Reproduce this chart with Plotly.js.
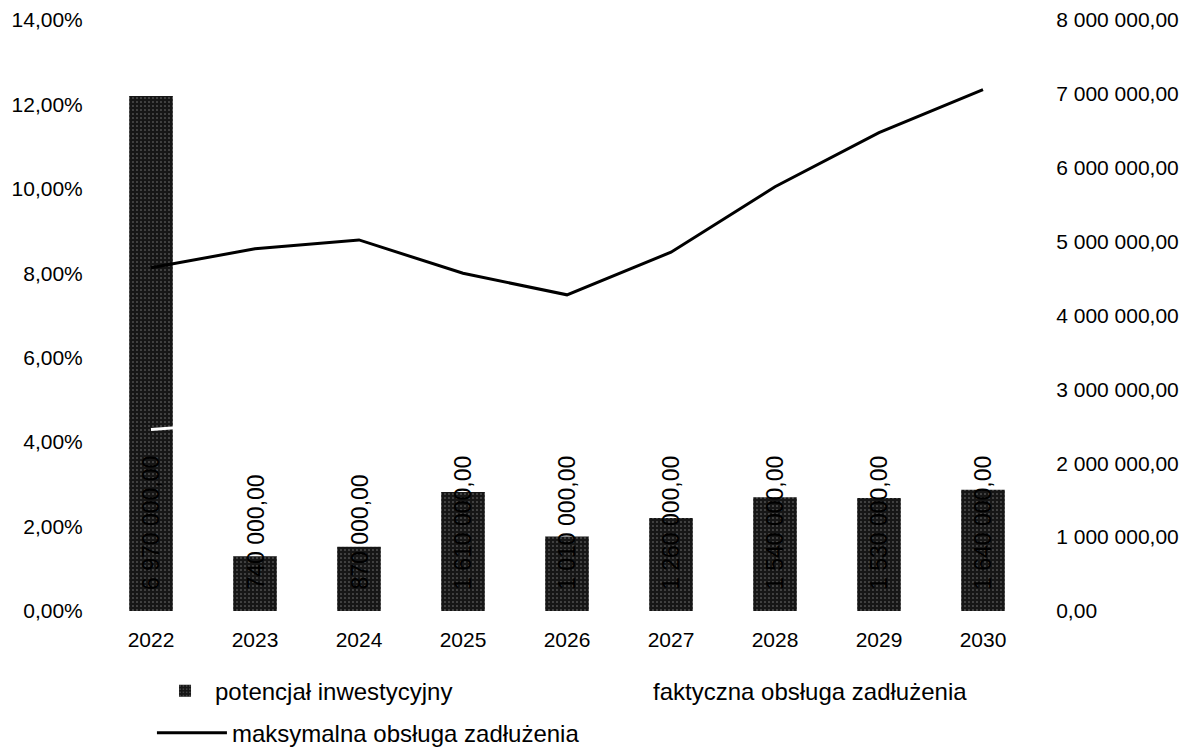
<!DOCTYPE html>
<html><head><meta charset="utf-8">
<script src="https://cdn.plot.ly/plotly-3.0.1.min.js"></script>
<style>html,body{margin:0;padding:0;background:#fff}#chart{width:1187px;height:748px}</style>
</head><body><div id="chart"></div>
<script>
const years = ['2022','2023','2024','2025','2026','2027','2028','2029','2030'];
const potencjal = [6970000, 740000, 870000, 1610000, 1010000, 1260000, 1540000, 1530000, 1640000];
const maksymalna = [8.13, 8.58, 8.79, 8.00, 7.49, 8.50, 10.05, 11.33, 12.35];
const faktyczna = [4.30, 4.48, 4.95, 3.95, 3.90, 3.92, 3.93, 3.93, 3.95];
const seriesNames = ['potencjał inwestycyjny', 'faktyczna obsługa zadłużenia', 'maksymalna obsługa zadłużenia'];

function fmt(v){
  const s = Math.round(v).toString().replace(/\B(?=(\d{3})+(?!\d))/g, ' ');
  return s + ',00';
}
const FONT = 'Liberation Sans, Arial, sans-serif';

const traces = [
  {type:'bar', name: seriesNames[0], x: years, y: potencjal, yaxis:'y', xaxis:'x', legend:'legend',
   marker:{color:'#161616', line:{width:0}, pattern:{shape:'.', fgcolor:'#7a7a7a', bgcolor:'#161616', size:4, solidity:0.12}},
   hoverinfo:'skip'},
  {type:'scatter', mode:'lines', name: seriesNames[1], x: years, y: faktyczna, yaxis:'y2', legend:'legend2',
   line:{color:'#ffffff', width:3}, hoverinfo:'skip'},
  {type:'scatter', mode:'lines', name: seriesNames[2], x: years, y: maksymalna, yaxis:'y2', legend:'legend3',
   line:{color:'#000000', width:3}, hoverinfo:'skip'}
];

// category axis: annotation x given as category index
const annotations = years.map((yr, i) => ({
  x: i, y: 0, xref:'x', yref:'y', text: fmt(potencjal[i]), textangle: -90,
  xanchor:'center', yanchor:'bottom', yshift: 19, showarrow:false,
  font:{family: FONT, size: 23, color:'#000'}
}));

const legendBase = {orientation:'h', bgcolor:'rgba(0,0,0,0)', font:{family: FONT, size: 24, color:'#000'},
  xref:'container', yref:'container', xanchor:'left', yanchor:'middle', itemwidth: 50, tracegroupgap: 0};

const layout = {
  width:1187, height:748,
  margin:{l:99, r:152, t:20, b:137, autoexpand:false},
  paper_bgcolor:'#fff', plot_bgcolor:'#fff',
  separators: ', ',
  font:{family: FONT, size: 21, color:'#000'},
  bargap: 0.58,
  showlegend: true,
  xaxis:{type:'category', range:[-0.5, 8.5], autorange:false, showgrid:false, zeroline:false, showline:false,
         ticks:'outside', ticklen:10, tickcolor:'rgba(0,0,0,0)', tickfont:{size:21}},
  yaxis:{side:'right', range:[0, 8000000], dtick:1000000, tickformat:',.2f',
         showgrid:false, zeroline:false, showline:false,
         ticks:'outside', ticklen:16, tickcolor:'rgba(0,0,0,0)', tickfont:{size:21}},
  yaxis2:{side:'left', overlaying:'y', range:[0, 14], dtick:2, tickformat:'.2f', ticksuffix:'%',
          showgrid:false, zeroline:false, showline:false,
          ticks:'outside', ticklen:11, tickcolor:'rgba(0,0,0,0)', tickfont:{size:21}},
  legend: Object.assign({}, legendBase, {x:0.1306, y:0.076}),
  legend2: Object.assign({}, legendBase, {x:0.4996, y:0.076}),
  legend3: Object.assign({}, legendBase, {x:0.128, y:0.020, itemwidth:70}),
  annotations: annotations
};

Plotly.newPlot('chart', traces, layout, {displayModeBar:false, staticPlot:true});
</script>
</body></html>
